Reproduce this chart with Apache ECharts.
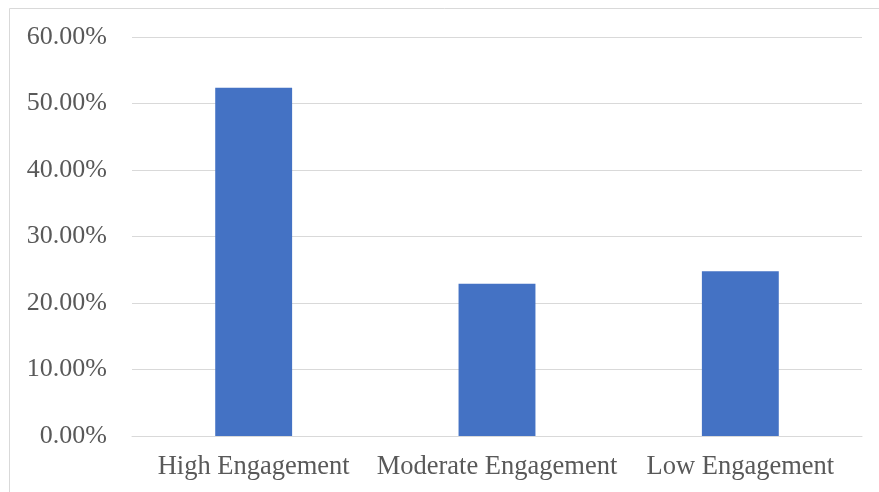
<!DOCTYPE html>
<html>
<head>
<meta charset="utf-8">
<script src="https://cdn.jsdelivr.net/npm/echarts@6/dist/echarts.min.js"></script>
<style>
html,body{margin:0;padding:0;background:#fff;}
#main{width:879px;height:492px;}
</style>
</head>
<body>
<div id="main"></div>
<script>
var categories = ['High Engagement', 'Moderate Engagement', 'Low Engagement'];
var shares = [52.38, 22.9, 24.76];
var yTicks = [0, 10, 20, 30, 40, 50, 60];

var chart = echarts.init(document.getElementById('main'), null, {renderer: 'canvas'});
chart.setOption({
  animation: false,
  backgroundColor: '#ffffff',
  graphic: [
    {type: 'line', shape: {x1: 9.5, y1: 8.5, x2: 879, y2: 8.5}, style: {stroke: '#d9d9d9', lineWidth: 1}},
    {type: 'line', shape: {x1: 9.5, y1: 8.5, x2: 9.5, y2: 492}, style: {stroke: '#d9d9d9', lineWidth: 1}}
  ],
  grid: {left: 132, right: 17, top: 37, bottom: 56, containLabel: false},
  xAxis: {
    type: 'category',
    data: categories,
    axisTick: {show: false},
    axisLine: {show: true, lineStyle: {color: '#d9d9d9', width: 1}},
    axisLabel: {color: '#595959', fontFamily: 'Liberation Serif', fontSize: 26.5, margin: 18, interval: 0}
  },
  yAxis: {
    type: 'value',
    min: yTicks[0],
    max: yTicks[yTicks.length - 1],
    interval: 10,
    axisLine: {show: false},
    axisTick: {show: false},
    splitLine: {lineStyle: {color: '#d9d9d9', width: 1}},
    axisLabel: {
      color: '#595959', fontFamily: 'Liberation Serif', fontSize: 26, margin: 25,
      formatter: function (v) { return v.toFixed(2) + '%'; }
    }
  },
  series: [{
    type: 'bar',
    data: shares,
    barWidth: '31.6%',
    itemStyle: {color: '#4472c4'}
  }]
});
</script>
</body>
</html>
